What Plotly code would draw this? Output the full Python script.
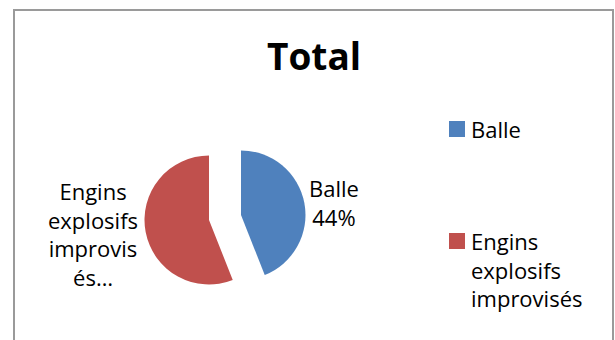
import plotly.graph_objects as go

# Data
labels = ["Balle", "Engins explosifs improvisés"]
values = [44, 56]
colors = ["#4F81BD", "#C0504D"]
title_text = "Total"

W, H = 615, 340
FONT = "Open Sans"


def px(x):
    return x / W


def py(y):
    return 1 - y / H


# Exploded slices: each slice drawn in its own pie domain (centre in pixels, radius)
slice_centres = [(241, 215), (209, 220)]
radius = 64.5

fig = go.Figure()
total = sum(values)
for i, (cx, cy) in enumerate(slice_centres):
    slice_colors = ["rgba(0,0,0,0)"] * len(values)
    slice_colors[i] = colors[i]
    fig.add_trace(go.Pie(
        labels=labels,
        values=values,
        sort=False,
        direction="clockwise",
        rotation=0,
        marker=dict(colors=slice_colors, line=dict(width=0)),
        textinfo="none",
        hoverinfo="skip",
        showlegend=False,
        domain=dict(x=[px(cx - radius), px(cx + radius)],
                    y=[py(cy + radius), py(cy - radius)]),
    ))

# Data labels
pct = [round(v * 100 / total) for v in values]
label_texts = [
    f"{labels[0]}<br>{pct[0]}%",
    "Engins<br>explosifs<br>improvis<br>és…",
]
label_pos = [(334, 202, "center"), (93, 234, "center")]
annotations = []
for txt, (x, y, anchor) in zip(label_texts, label_pos):
    annotations.append(dict(
        x=px(x), y=py(y), xref="paper", yref="paper",
        text=txt, showarrow=False, xanchor=anchor, yanchor="middle",
        align="center", font=dict(family=FONT, size=22, color="#000000"),
    ))

# Title
annotations.append(dict(
    x=px(313.5), y=py(56), xref="paper", yref="paper",
    text=f"<b>{title_text}</b>", showarrow=False, xanchor="center", yanchor="middle",
    font=dict(family=FONT, size=37, color="#000000"),
))

# Legend (drawn manually)
legend_texts = ["Balle", "Engins<br>explosifs<br>improvisés"]
legend_rows = [129, 241]
shapes = []
for txt, col, yc in zip(legend_texts, colors, legend_rows):
    shapes.append(dict(
        type="rect", xref="paper", yref="paper",
        x0=px(449), x1=px(465), y0=py(yc + 8), y1=py(yc - 8),
        fillcolor=col, line=dict(width=0),
    ))
    annotations.append(dict(
        x=px(469), y=py(yc - 17), xref="paper", yref="paper",
        text=txt, showarrow=False, xanchor="left", yanchor="top",
        align="left", font=dict(family=FONT, size=22, color="#000000"),
    ))

# Chart area border
shapes.append(dict(
    type="rect", xref="paper", yref="paper",
    x0=px(14), x1=px(613), y0=py(350), y1=py(10),
    line=dict(color="#9a9a9a", width=2), fillcolor="rgba(0,0,0,0)",
))

fig.update_layout(
    width=W, height=H,
    margin=dict(l=0, r=0, t=0, b=0),
    paper_bgcolor="white",
    plot_bgcolor="white",
    annotations=annotations,
    shapes=shapes,
    showlegend=False,
)

fig.write_html("out.html", config={"displayModeBar": False})
